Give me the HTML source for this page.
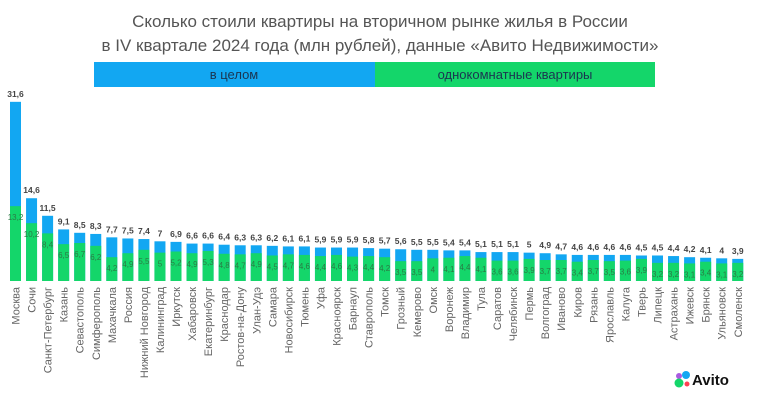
<!DOCTYPE html>
<html><head><meta charset="utf-8"><style>
body{margin:0;background:#fff;width:760px;height:402px;overflow:hidden}
</style></head><body>
<svg id="s" width="760" height="402" xmlns="http://www.w3.org/2000/svg" font-family="Liberation Sans, sans-serif">
<text x="380" y="27" text-anchor="middle" font-size="17" fill="#555">Сколько стоили квартиры на вторичном рынке жилья в России</text>
<text x="380" y="51" text-anchor="middle" font-size="17" fill="#555">в IV квартале 2024 года (млн рублей), данные «Авито Недвижимости»</text>
<rect x="94" y="62" width="281" height="25" fill="#12a7f2"/>
<rect x="375" y="62" width="280" height="25" fill="#14d66a"/>
<text x="234" y="79" text-anchor="middle" font-size="13" fill="#1b3550">в целом</text>
<text x="515" y="79" text-anchor="middle" font-size="13" fill="#1b3550">однокомнатные квартиры</text>
<g id="g"></g>
<circle cx="679" cy="376" r="3" fill="#a95be0"/>
<circle cx="686" cy="375" r="4" fill="#12a7f2"/>
<circle cx="679" cy="383" r="4.5" fill="#14d66a"/>
<circle cx="687" cy="384" r="2.5" fill="#ff4053"/>
<text x="692" y="385" font-size="15" font-weight="bold" fill="#111">Avito</text>
</svg>
<script>
var n="Москва,Сочи,Санкт-Петербург,Казань,Севастополь,Симферополь,Махачкала,Россия,Нижний Новгород,Калининград,Иркутск,Хабаровск,Екатеринбург,Краснодар,Ростов-на-Дону,Улан-Удэ,Самара,Новосибирск,Тюмень,Уфа,Красноярск,Барнаул,Ставрополь,Томск,Грозный,Кемерово,Омск,Воронеж,Владимир,Тула,Саратов,Челябинск,Пермь,Волгоград,Иваново,Киров,Рязань,Ярославль,Калуга,Тверь,Липецк,Астрахань,Ижевск,Брянск,Ульяновск,Смоленск".split(",");
var b=[31.6,14.6,11.5,9.1,8.5,8.3,7.7,7.5,7.4,7,6.9,6.6,6.6,6.4,6.3,6.3,6.2,6.1,6.1,5.9,5.9,5.9,5.8,5.7,5.6,5.5,5.5,5.4,5.4,5.1,5.1,5.1,5,4.9,4.7,4.6,4.6,4.6,4.6,4.5,4.5,4.4,4.2,4.1,4,3.9];
var g=[13.2,10.2,8.4,6.5,6.7,6.2,4.2,4.9,5.5,5,5.2,4.9,5.3,4.8,4.7,4.9,4.5,4.7,4.6,4.4,4.6,4.3,4.4,4.2,3.5,3.5,4,4.1,4.4,4.1,3.6,3.6,3.9,3.7,3.7,3.4,3.7,3.5,3.6,3.9,3.2,3.2,3.1,3.4,3.1,3.2];
var s="",base=281,k=5.67,f=function(v){return String(v).replace(".",",")};
for(var i=0;i<46;i++){var cx=15.5+i*16.05,hb=b[i]*k,hg=g[i]*k;
s+='<rect x="'+(cx-5.5)+'" y="'+(base-hb)+'" width="11" height="'+hb+'" fill="#12a7f2"/>';
s+='<rect x="'+(cx-5.5)+'" y="'+(base-hg)+'" width="11" height="'+hg+'" fill="#14d66a"/>';
s+='<text x="'+cx+'" y="'+(base-hb-5)+'" text-anchor="middle" font-size="8.5" font-weight="bold" fill="#444">'+f(b[i])+'</text>';
s+='<text x="'+cx+'" y="'+(base-hg+14)+'" text-anchor="middle" font-size="8" fill="#2a7a45">'+f(g[i])+'</text>';
s+='<text transform="translate('+(cx+4)+',287) rotate(-90)" text-anchor="end" font-size="11" fill="#666">'+n[i]+'</text>';}
document.getElementById("g").innerHTML=s;
</script>
</body></html>
